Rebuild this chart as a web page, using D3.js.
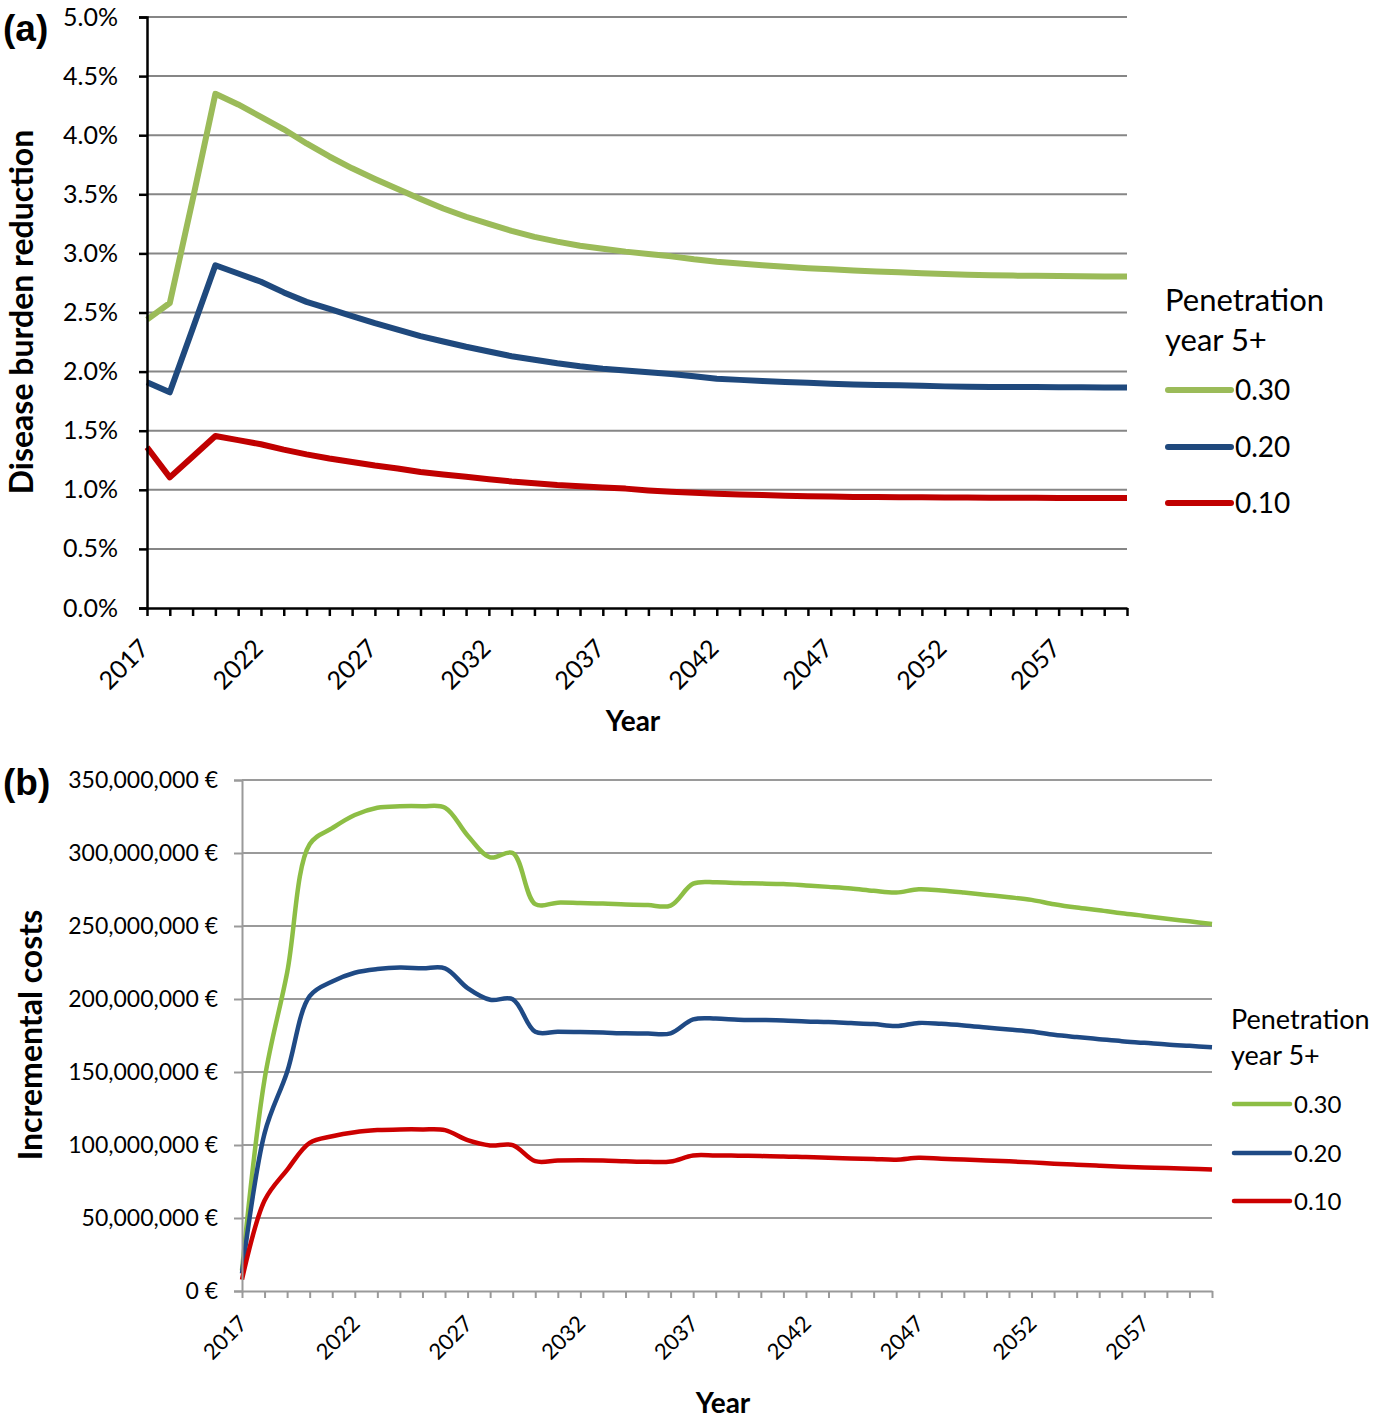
<!DOCTYPE html>
<html><head><meta charset="utf-8">
<script src="https://cdn.jsdelivr.net/npm/d3@7"></script>
<style>body{margin:0;background:#fff}svg{display:block}</style>
</head><body>
<svg id="chart" width="1381" height="1420"></svg>
<script>
// ---------- DATA ----------
const years = [2017,2018,2019,2020,2021,2022,2023,2024,2025,2026,2027,2028,2029,2030,2031,2032,2033,2034,2035,2036,2037,2038,2039,2040,2041,2042,2043,2044,2045,2046,2047,2048,2049,2050,2051,2052,2053,2054,2055,2056,2057,2058,2059,2060];
const yearLabels = ["2017","2022","2027","2032","2037","2042","2047","2052","2057"];
const seriesNames = ["0.30","0.20","0.10"];

// Panel (a): disease burden reduction (%)
const burden030 = [2.44,2.58,3.45,4.35,4.26,4.155,4.05,3.93,3.82,3.72,3.63,3.545,3.46,3.38,3.31,3.25,3.19,3.14,3.10,3.065,3.04,3.015,2.995,2.975,2.95,2.93,2.915,2.90,2.887,2.875,2.865,2.855,2.847,2.84,2.832,2.825,2.82,2.815,2.812,2.81,2.808,2.806,2.805,2.805];
const burden020 = [1.91,1.825,2.36,2.90,2.83,2.76,2.67,2.59,2.53,2.47,2.41,2.355,2.30,2.255,2.21,2.17,2.13,2.10,2.07,2.045,2.025,2.01,1.995,1.98,1.96,1.94,1.93,1.92,1.912,1.905,1.897,1.89,1.887,1.885,1.88,1.875,1.872,1.87,1.87,1.87,1.868,1.868,1.866,1.865];
const burden010 = [1.36,1.105,1.28,1.455,1.42,1.385,1.34,1.30,1.265,1.235,1.205,1.18,1.15,1.13,1.11,1.09,1.07,1.055,1.04,1.03,1.02,1.01,0.995,0.983,0.975,0.966,0.96,0.955,0.95,0.946,0.943,0.94,0.939,0.938,0.936,0.935,0.934,0.933,0.932,0.932,0.931,0.931,0.93,0.93];
const burdenTicks = [0,0.5,1.0,1.5,2.0,2.5,3.0,3.5,4.0,4.5,5.0];

// Panel (b): incremental costs (million €)
const cost030 = [14,145,218,306,317,326,331,332,332,331,312,297,300,265,266,265.7,265.4,264.7,264.3,264,279,280,279.4,279.1,278.7,277.8,276.8,275.7,274.1,272.9,275.2,274.3,272.9,271.3,269.7,267.9,264.9,262.6,260.8,258.7,256.9,255,253.2,251.4];
const cost020 = [12,108,150,202,212,218,220.5,221.5,221,221,207.5,199.5,199.8,177.5,177.6,177.4,177,176.5,176.3,176.5,186,186.6,185.8,185.6,185.3,184.6,184.2,183.5,182.8,181.5,183.6,183,181.9,180.5,179.1,177.8,175.5,173.9,172.5,171.1,170,168.8,167.9,167];
const cost010 = [7.8,62,83,101.5,106,108.8,110.2,110.7,110.7,110.2,103.3,99.7,99.9,88.9,89.4,89.6,89.4,88.9,88.5,88.7,92.8,92.8,92.7,92.4,92.2,91.7,91.3,90.8,90.4,89.9,91.2,90.6,90.1,89.4,88.8,88.1,87.2,86.5,85.8,85.1,84.6,84.2,83.7,83.3];
const costTicks = [0,50,100,150,200,250,300,350];

const colorsA = ["#9BBB59","#1F497D","#C00000"];
const colorsB = ["#8DBE45","#1F4A85","#CC0000"];

// ---------- DRAW ----------
const FONT = "Lato, 'Open Sans', sans-serif";
const svg = d3.select("#chart").style("font-family", FONT);

function panel(o) {
  const g = svg.append("g");
  const x = d3.scaleLinear().domain([years[0], years[years.length-1]]).range([o.x0, o.x1]);
  const y = d3.scaleLinear().domain([0, o.ymax]).range([o.y1, o.y0]);

  g.append("g").selectAll("line").data(o.yticks.filter(t => t > 0)).join("line")
    .attr("x1", o.x0).attr("x2", o.x1)
    .attr("y1", d => y(d)).attr("y2", d => y(d))
    .attr("stroke", o.gridColor).attr("stroke-width", 2);

  const line = d3.line().x((d,i) => x(years[i])).y(d => y(d)).curve(o.curve);
  o.series.forEach((s, k) => {
    g.append("path").datum(s).attr("d", line)
      .attr("fill", "none").attr("stroke", o.colors[k])
      .attr("stroke-width", o.lw).attr("stroke-linejoin", "round").attr("stroke-linecap", "butt");
  });

  const ya = g.append("g").attr("transform", `translate(${o.x0},0)`)
    .call(d3.axisLeft(y).tickValues(o.yticks).tickSize(8).tickPadding(o.ypad).tickFormat(o.yfmt));
  ya.select(".domain").attr("stroke", o.axisColor).attr("stroke-width", o.axisW);
  ya.selectAll(".tick line").attr("stroke", o.axisColor).attr("stroke-width", o.axisW);
  ya.selectAll("text").style("font-family", FONT).style("font-size", o.yfs + "px").attr("fill", "#000");

  const xa = g.append("g").attr("transform", `translate(0,${o.y1})`)
    .call(d3.axisBottom(x).tickValues(years).tickSize(o.xtick).tickSizeOuter(0)
      .tickFormat(d => yearLabels.includes(String(d)) ? String(d) : ""));
  xa.select(".domain").attr("stroke", o.axisColor).attr("stroke-width", o.axisW);
  xa.selectAll(".tick line").attr("stroke", o.axisColor).attr("stroke-width", o.axisW);
  xa.selectAll("text").style("font-family", FONT).style("font-size", o.xfs + "px").attr("fill", "#000")
    .attr("x", 0).attr("y", 0).attr("dy", null).attr("text-anchor", "end")
    .attr("transform", `translate(${o.xlx},${o.xly}) rotate(-45)`);

  g.append("text").attr("x", (o.x0 + o.x1) / 2 - 4).attr("y", o.xTitleY).attr("text-anchor", "middle")
    .style("font-weight", 700).style("font-size", "28px").text("Year");
  g.append("text").attr("transform", `translate(${o.yTitleX},${o.yTitleCY}) rotate(-90)`)
    .attr("text-anchor", "middle").style("font-weight", 700).style("font-size", o.ytfs + "px").text(o.yTitle);

  g.append("text").attr("x", 3).attr("y", o.letterY).style("font-family", "'Liberation Sans', Arial, sans-serif")
    .style("font-weight", 700).style("font-size", "37px").text(o.letter);

  g.append("text").attr("x", o.lgx).attr("y", o.lgy0).style("font-size", o.lgtfs + "px").text("Penetration");
  g.append("text").attr("x", o.lgx).attr("y", o.lgy1).style("font-size", o.lgtfs + "px").text("year 5+");
  seriesNames.forEach((n, k) => {
    const yy = o.lgLines[k];
    g.append("line").attr("x1", o.lgx + 3).attr("x2", o.lgx + o.lgLen).attr("y1", yy).attr("y2", yy)
      .attr("stroke", o.colors[k]).attr("stroke-width", o.lw).attr("stroke-linecap", "round");
    g.append("text").attr("x", o.lgx + o.lgLen + 4).attr("y", yy + o.lgfs * 0.36)
      .style("font-size", o.lgfs + "px").text(n);
  });
}

panel({
  x0: 147, x1: 1127, y0: 17, y1: 608, ymax: 5,
  yticks: burdenTicks, yfmt: d => d.toFixed(1) + "%", ypad: 21, yfs: 25,
  gridColor: "#868686", axisColor: "#000", axisW: 2.5, xtick: 8,
  series: [burden030, burden020, burden010], colors: colorsA, lw: 6, curve: d3.curveLinear,
  xfs: 25, xlx: 3, xly: 42,
  xTitleY: 731, yTitleX: 33, yTitleCY: 312, ytfs: 32, yTitle: "Disease burden reduction",
  letter: "(a)", letterY: 41,
  lgx: 1165, lgy0: 311, lgy1: 351, lgtfs: 31, lgfs: 28, lgLen: 66, lgLines: [390, 447, 503]
});

panel({
  x0: 242, x1: 1212, y0: 780, y1: 1291, ymax: 350,
  yticks: costTicks, yfmt: d => d3.format(",")(d * 1e6) + " €", ypad: 16, yfs: 23,
  gridColor: "#9a9a9a", axisColor: "#9a9a9a", axisW: 2, xtick: 7,
  series: [cost030, cost020, cost010], colors: colorsB, lw: 4.5, curve: d3.curveCatmullRom.alpha(0.5),
  xfs: 22, xlx: 6, xly: 34,
  xTitleY: 1413, yTitleX: 42, yTitleCY: 1035, ytfs: 32, yTitle: "Incremental costs",
  letter: "(b)", letterY: 795,
  lgx: 1231, lgy0: 1029, lgy1: 1065, lgtfs: 27, lgfs: 24, lgLen: 59, lgLines: [1104, 1153, 1201]
});
</script>
</body></html>
